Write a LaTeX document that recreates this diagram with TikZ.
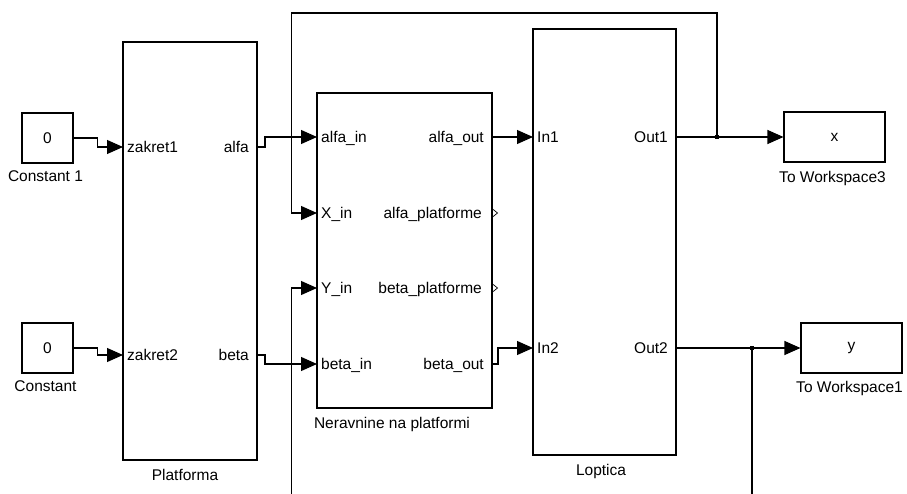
\documentclass[tikz,border=0pt]{standalone}
\usepackage{fontspec}
\setmainfont{Liberation Sans}
\usetikzlibrary{arrows.meta}
\begin{document}
\begin{tikzpicture}[x=1pt,y=-1pt,
  txt/.style={font=\fontsize{15.5}{18}\selectfont, inner sep=0pt},
  blk/.style={draw, line width=1.1pt, inner sep=0pt, minimum width=#1},
  blkh/.style={minimum height=#1},
  inport/.style={txt, anchor=west, text height=11.1pt, text depth=0pt, xshift=4pt},
  outport/.style={txt, anchor=east, text height=11.1pt, text depth=0pt, xshift=-8pt},
  caption/.style={txt, anchor=base},
  sig/.style={line width=1.1pt, -{Triangle[length=16pt,width=14pt]}},
  wire/.style={line width=1.1pt},
  dot/.style={fill, inner sep=0pt, minimum size=4.5pt, draw=none}]
\useasboundingbox (0,0) rectangle (907,494);

% blocks
\node[blk=51pt, blkh=50pt, txt] (c1) at (47.5,138) {0};
\node[blk=51pt, blkh=50pt, txt] (c2) at (47.5,348) {0};
\node[blk=134pt, blkh=418pt] (plat) at (190,251) {};
\node[blk=175pt, blkh=315pt] (ner) at (404.5,250.5) {};
\node[blk=143pt, blkh=426pt] (lop) at (604.5,242) {};
\node[blk=101pt, blkh=50pt, txt] (tw3) at (834.5,137) {x};
\node[blk=101pt, blkh=50pt, txt] (tw1) at (851.5,348) {y};

% block captions
\node[caption] (c1cap) at (45.5,182) {Constant 1};
\node[caption] (c2cap) at (45.5,391) {Constant};
\node[caption] (platcap) at (185,480) {Platforma};
\node[caption] (nercap) at (392,428) {Neravnine na platformi};
\node[caption] (lopcap) at (601,475) {Loptica};
\node[caption] (tw3cap) at (832.5,183) {To Workspace3};
\node[caption] (tw1cap) at (849.5,392) {To Workspace1};

% ports
\coordinate (plat-in1) at (123,147);
\coordinate (plat-in2) at (123,355);
\coordinate (plat-out1) at (257,147);
\coordinate (plat-out2) at (257,355);
\coordinate (ner-in1) at (317,137);
\coordinate (ner-in2) at (317,213);
\coordinate (ner-in3) at (317,288);
\coordinate (ner-in4) at (317,364);
\coordinate (ner-out1) at (492,137);
\coordinate (ner-out2) at (492,213);
\coordinate (ner-out3) at (492,288);
\coordinate (ner-out4) at (492,364);
\coordinate (lop-in1) at (533,137);
\coordinate (lop-in2) at (533,348);
\coordinate (lop-out1) at (676,137);
\coordinate (lop-out2) at (676,348);

% port labels
\node[inport] (l-zak1) at (plat-in1) {zakret1};
\node[inport] (l-zak2) at (plat-in2) {zakret2};
\node[outport] (l-alfa) at (plat-out1) {alfa};
\node[outport] (l-beta) at (plat-out2) {beta};
\node[inport] (l-ain) at (ner-in1) {alfa\_in};
\node[inport] (l-xin) at (ner-in2) {X\_in};
\node[inport] (l-yin) at (ner-in3) {Y\_in};
\node[inport] (l-bin) at (ner-in4) {beta\_in};
\node[outport] (l-aout) at (ner-out1) {alfa\_out};
\node[outport, xshift=-2pt] (l-apl) at (ner-out2) {alfa\_platforme};
\node[outport, xshift=-2pt] (l-bpl) at (ner-out3) {beta\_platforme};
\node[outport] (l-bout) at (ner-out4) {beta\_out};
\node[inport] (l-in1) at (lop-in1) {In1};
\node[inport] (l-in2) at (lop-in2) {In2};
\node[outport] (l-out1) at (lop-out1) {Out1};
\node[outport] (l-out2) at (lop-out2) {Out2};

% unconnected output markers
\draw[line width=0.7pt] ([xshift=0.5pt,yshift=4pt]ner-out2) -- ([xshift=5.5pt]ner-out2) -- ([xshift=0.5pt,yshift=-4pt]ner-out2);
\draw[line width=0.7pt] ([xshift=0.5pt,yshift=4pt]ner-out3) -- ([xshift=5.5pt]ner-out3) -- ([xshift=0.5pt,yshift=-4pt]ner-out3);

% branch points and free ends
\coordinate (j1) at (717,137);
\coordinate (j2) at (752,348);
\coordinate (fb) at (291.5,13);
\coordinate (xb) at (291.5,494);
\coordinate (yb) at (752,494);

% signal lines
\draw[sig] (c1.east) -- ++(24,0) |- (plat-in1);
\draw[sig] (c2.east) -- ++(24,0) |- (plat-in2);
\draw[sig] (plat-out1) -- ++(8,0) |- (ner-in1);
\draw[sig] (plat-out2) -- ++(8,0) |- (ner-in4);
\draw[sig] (ner-out1) -- (lop-in1);
\draw[sig] (ner-out4) -- ++(6,0) |- (lop-in2);
\draw[wire] (lop-out1) -- (j1);
\draw[sig] (j1) -- (tw3.west);
\draw[sig] (j1) |- (fb) |- (ner-in2);
\draw[wire] (lop-out2) -- (j2);
\draw[sig] (j2) -- (tw1.west);
\draw[wire] (j2) -- (yb);
\draw[sig] (xb) |- (ner-in3);

\node[dot] (d1) at (j1) {};
\node[dot] (d2) at (j2) {};
\end{tikzpicture}
\end{document}
